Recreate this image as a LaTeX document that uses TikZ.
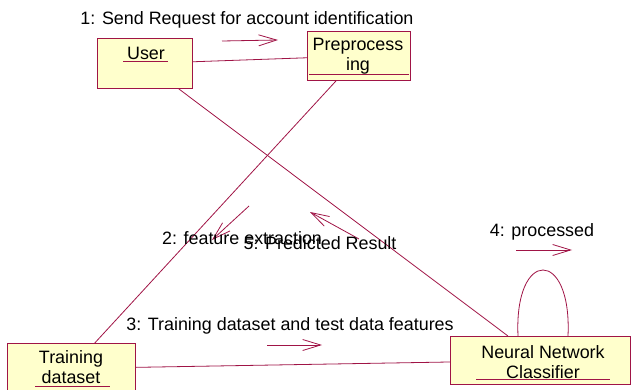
\documentclass[tikz,border=0pt]{standalone}
\usepackage{fontspec}
\setmainfont{Liberation Sans}
\usetikzlibrary{arrows.meta}

\definecolor{umlred}{RGB}{160,20,70}
\definecolor{umlfill}{RGB}{255,255,204}

\tikzset{
    obj/.style = {draw = umlred, fill = umlfill, line width = 0.9pt, inner sep = 0pt, anchor = north west},
    objtext/.style = {align = center, inner sep = 0pt},
    link/.style = {draw = umlred, line width = 0.8pt},
    msg/.style = {link, -{Straight Barb[length = 18pt, width = 11pt]}},
}

\begin{document}
\begin{tikzpicture}[x = 1pt, y = -1pt, font = \fontsize{17.9}{19.5}\selectfont]
    \useasboundingbox (0, 0) rectangle (631, 390);

    % objects
    \node [obj, minimum width = 95pt, minimum height = 50pt] (user) at (97, 38) {};
    \node [obj, minimum width = 103pt, minimum height = 49pt] (prep) at (307, 31) {};
    \node [obj, minimum width = 128pt, minimum height = 50pt] (train) at (7, 343) {};
    \node [obj, minimum width = 180pt, minimum height = 48pt] (nnc) at (450, 336) {};

    \node [objtext] (usertext) at (146, 53) {User};
    \node [objtext] (preptext) at (358, 56) {Preprocess\\ing};
    \node [objtext] (traintext) at (71, 367) {Training\\dataset};
    \node [objtext] (nnctext) at (543, 362) {Neural Network\\Classifier};

    \draw [link]
        (123, 61) -- (168, 61)
        (309, 74) -- (409, 74)
        (35, 386) -- (110, 386)
        (476, 379) -- (610, 379);

    % links
    \draw [link] (user) -- (prep);
    \draw [link] (user) -- (nnc);
    \draw [link] (prep) -- (train);
    \draw [link] (train) -- (nnc);
    \draw [link] (518, 336) coordinate (loopa)
        .. controls (514, 248) and (572, 248) .. (568, 336) coordinate (loopb);

    % messages
    \draw [msg] (222, 41) coordinate (m1a) -- (278, 40) coordinate (m1b);
    \draw [msg] (249, 206) coordinate (m2a) -- (212, 240) coordinate (m2b);
    \draw [msg] (267, 345) coordinate (m3a) -- (322, 345) coordinate (m3b);
    \draw [msg] (516, 250) coordinate (m4a) -- (572, 250) coordinate (m4b);
    \draw [msg] (359, 239) coordinate (m5a) -- (310, 212) coordinate (m5b);

    \node (m1text) at (247, 20) {1: Send Request for account identification};
    \node (m2text) at (242, 238) {2: feature extraction};
    \node (m3text) at (290, 326) {3: Training dataset and test data features};
    \node (m4text) at (542, 232) {4: processed};
    \node (m5text) at (320, 243) {5: Predicted Result};
\end{tikzpicture}
\end{document}
